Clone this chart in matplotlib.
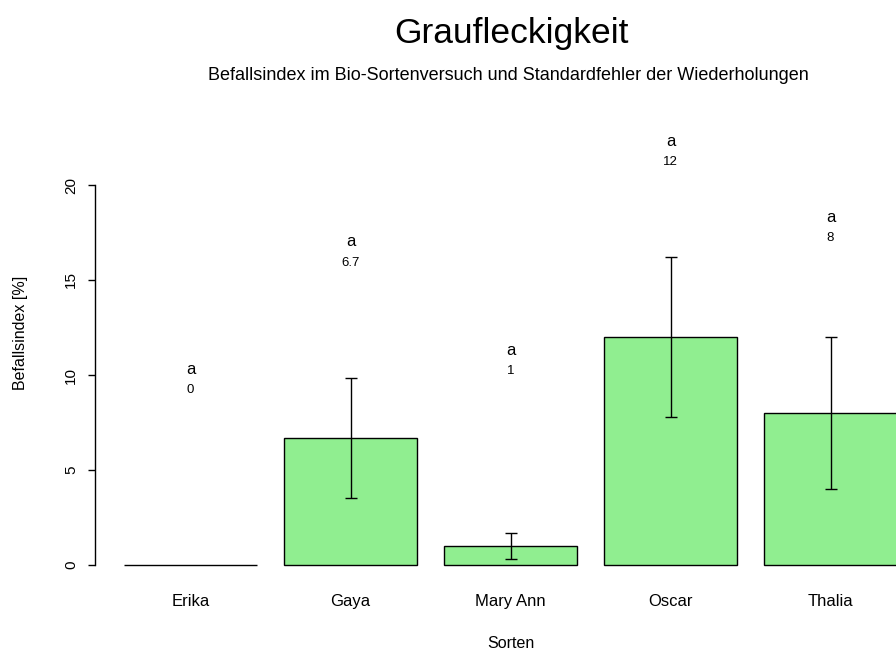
import matplotlib
matplotlib.use("Agg")
import matplotlib.pyplot as plt

sorten = ["Erika", "Gaya", "Mary Ann", "Oscar", "Thalia"]
befall = [0, 6.7, 1, 12, 8]
stdfehler = [0, 3.15, 0.67, 4.23, 4.0]
gruppen = ["a", "a", "a", "a", "a"]
wert_labels = ["0", "6.7", "1", "12", "8"]

plt.rcParams["font.family"] = ["Liberation Sans", "DejaVu Sans"]

W, H = 896, 650
fig = plt.figure(figsize=(W / 100, H / 100), dpi=100)

# plot region in pixel coords (R-like layout)
left_px, right_px, top_px, bottom_px = 95, 896, 100, 580
ax = fig.add_axes([left_px / W, 1 - bottom_px / H,
                   (right_px - left_px) / W, (bottom_px - top_px) / H])

x = list(range(len(sorten)))
ax.bar(x, befall, width=1 / 1.2, color="#90ee90", edgecolor="black", linewidth=1.0)

for xi, m, s in zip(x, befall, stdfehler):
    if s > 0:
        ax.errorbar(xi, m, yerr=s, fmt="none", ecolor="black", elinewidth=1.0,
                    capsize=4.3, capthick=1.0)

for xi, m, g, w in zip(x, befall, gruppen, wert_labels):
    ax.text(xi, m + 10.3, g, ha="center", va="center", fontsize=12)
    ax.text(xi, m + 9.2, w, ha="center", va="center", fontsize=9.5)

ax.set_xlim((left_px - 190.5) / 160, (right_px - 190.5) / 160)
ax.set_ylim(-(bottom_px - 565) / 19, (565 - top_px) / 19)

for side in ["top", "right", "bottom"]:
    ax.spines[side].set_visible(False)
ax.spines["left"].set_bounds(0, 20)
ax.spines["left"].set_linewidth(1.0)

ax.set_yticks([0, 5, 10, 15, 20])
ax.set_yticklabels(["0", "5", "10", "15", "20"], rotation=90, va="center")
ax.tick_params(axis="y", length=5, width=1.0, pad=7, labelsize=11)
ax.set_xticks(x)
ax.set_xticklabels(sorten)
ax.tick_params(axis="x", length=0, pad=10, labelsize=12)

fig.text(21 / W, 1 - 333 / H, "Befallsindex [%]", rotation=90, ha="center", va="center", fontsize=11.5)
fig.text(511 / W, 1 - 643 / H, "Sorten", ha="center", va="center", fontsize=11.5)
fig.text(512 / W, 1 - 34 / H, "Graufleckigkeit", ha="center", va="center", fontsize=25.5)
fig.text(508 / W, 1 - 75 / H, "Befallsindex im Bio-Sortenversuch und Standardfehler der Wiederholungen",
         ha="center", va="center", fontsize=13)

fig.savefig("out.png", dpi=100)
